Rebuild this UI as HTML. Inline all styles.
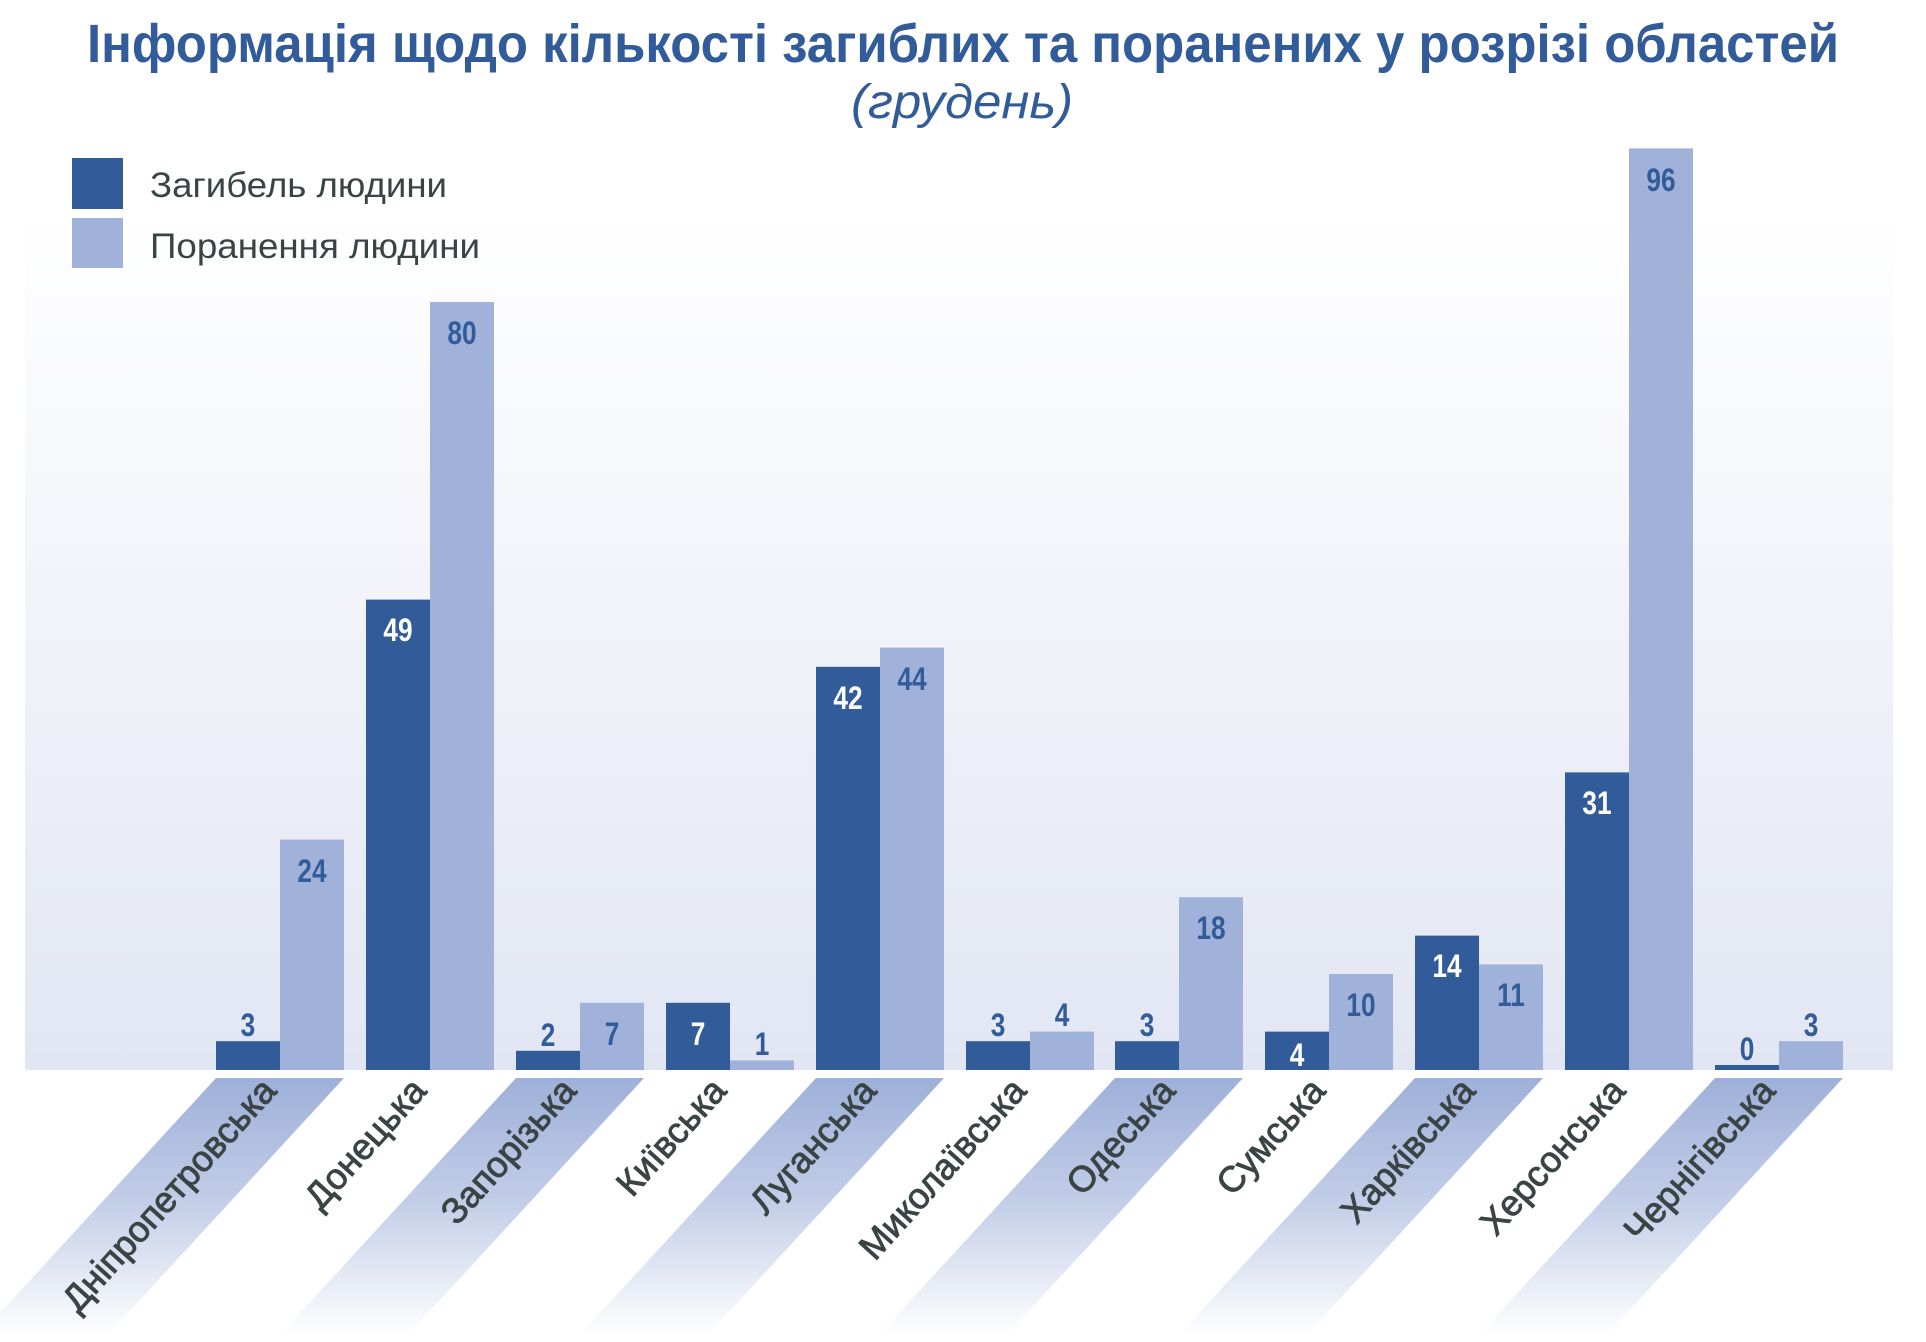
<!DOCTYPE html>
<html><head><meta charset="utf-8"><style>
html,body{margin:0;padding:0;background:#fff;}
svg{display:block;}
</style></head><body>
<svg width="1926" height="1342" viewBox="0 0 1926 1342" xmlns="http://www.w3.org/2000/svg" font-family="Liberation Sans, sans-serif">
<defs>
<linearGradient id="bg" x1="0" y1="210" x2="0" y2="1070" gradientUnits="userSpaceOnUse">
<stop offset="0" stop-color="#ffffff"/><stop offset="1" stop-color="#e2e6f3"/></linearGradient>
<linearGradient id="band" x1="0" y1="1078" x2="0" y2="1335" gradientUnits="userSpaceOnUse">
<stop offset="0" stop-color="#9eb0d9"/><stop offset="0.5" stop-color="#c4cfe8"/><stop offset="1" stop-color="#ffffff"/></linearGradient>
</defs>
<rect x="25" y="210" width="1868" height="860" fill="url(#bg)"/>
<text x="963" y="62" text-anchor="middle" font-size="54" font-weight="bold" fill="#325c99" textLength="1752" lengthAdjust="spacingAndGlyphs">Інформація щодо кількості загиблих та поранених у розрізі областей</text>
<text x="962" y="118" text-anchor="middle" font-size="48" font-style="italic" fill="#325c99" textLength="222" lengthAdjust="spacingAndGlyphs">(грудень)</text>
<rect x="72" y="158" width="51" height="51" fill="#325c99"/>
<rect x="72" y="218" width="51" height="50" fill="#a0b2da"/>
<text x="150" y="197" font-size="35" fill="#3b4444" textLength="297" lengthAdjust="spacingAndGlyphs">Загибель людини</text>
<text x="150" y="258" font-size="35" fill="#3b4444" textLength="330" lengthAdjust="spacingAndGlyphs">Поранення людини</text>

<g fill="url(#band)">
<polygon points="216,1078 344,1078 94,1350 -34,1350"/>
<polygon points="516,1078 644,1078 394,1350 266,1350"/>
<polygon points="816,1078 944,1078 694,1350 566,1350"/>
<polygon points="1115,1078 1243,1078 993,1350 865,1350"/>
<polygon points="1415,1078 1543,1078 1293,1350 1165,1350"/>
<polygon points="1715,1078 1843,1078 1593,1350 1465,1350"/>
</g>

<g fill="#325c99">
<rect x="216" y="1041.2" width="64" height="28.8"/>
<rect x="366" y="599.6" width="64" height="470.4"/>
<rect x="516" y="1050.8" width="64" height="19.2"/>
<rect x="666" y="1002.8" width="64" height="67.2"/>
<rect x="816" y="666.8" width="64" height="403.2"/>
<rect x="966" y="1041.2" width="64" height="28.8"/>
<rect x="1115" y="1041.2" width="64" height="28.8"/>
<rect x="1265" y="1031.6" width="64" height="38.4"/>
<rect x="1415" y="935.6" width="64" height="134.4"/>
<rect x="1565" y="772.4" width="64" height="297.6"/>
<rect x="1715" y="1065" width="64" height="5"/>
</g>
<g fill="#a0b2da">
<rect x="280" y="839.6" width="64" height="230.4"/>
<rect x="430" y="302" width="64" height="768"/>
<rect x="580" y="1002.8" width="64" height="67.2"/>
<rect x="730" y="1060.4" width="64" height="9.6"/>
<rect x="880" y="647.6" width="64" height="422.4"/>
<rect x="1030" y="1031.6" width="64" height="38.4"/>
<rect x="1179" y="897.2" width="64" height="172.8"/>
<rect x="1329" y="974" width="64" height="96"/>
<rect x="1479" y="964.4" width="64" height="105.6"/>
<rect x="1629" y="148.4" width="64" height="921.6"/>
<rect x="1779" y="1041.2" width="64" height="28.8"/>
</g>

<g font-size="32" font-weight="bold" text-anchor="middle">
<g fill="#325c99">
<text x="248" y="1036" transform="translate(248 0) scale(0.82 1) translate(-248 0)">3</text>
<text x="548" y="1046" transform="translate(548 0) scale(0.82 1) translate(-548 0)">2</text>
<text x="998" y="1036" transform="translate(998 0) scale(0.82 1) translate(-998 0)">3</text>
<text x="1147" y="1036" transform="translate(1147 0) scale(0.82 1) translate(-1147 0)">3</text>
<text x="1747" y="1060" transform="translate(1747 0) scale(0.82 1) translate(-1747 0)">0</text>
<text x="312" y="882" transform="translate(312 0) scale(0.82 1) translate(-312 0)">24</text>
<text x="462" y="344" transform="translate(462 0) scale(0.82 1) translate(-462 0)">80</text>
<text x="612" y="1045" transform="translate(612 0) scale(0.82 1) translate(-612 0)">7</text>
<text x="762" y="1055" transform="translate(762 0) scale(0.82 1) translate(-762 0)">1</text>
<text x="912" y="690" transform="translate(912 0) scale(0.82 1) translate(-912 0)">44</text>
<text x="1062" y="1026" transform="translate(1062 0) scale(0.82 1) translate(-1062 0)">4</text>
<text x="1211" y="939" transform="translate(1211 0) scale(0.82 1) translate(-1211 0)">18</text>
<text x="1361" y="1016" transform="translate(1361 0) scale(0.82 1) translate(-1361 0)">10</text>
<text x="1511" y="1006" transform="translate(1511 0) scale(0.82 1) translate(-1511 0)">11</text>
<text x="1661" y="191" transform="translate(1661 0) scale(0.82 1) translate(-1661 0)">96</text>
<text x="1811" y="1036" transform="translate(1811 0) scale(0.82 1) translate(-1811 0)">3</text>
</g>
<g fill="#ffffff">
<text x="398" y="641" transform="translate(398 0) scale(0.82 1) translate(-398 0)">49</text>
<text x="698" y="1045" transform="translate(698 0) scale(0.82 1) translate(-698 0)">7</text>
<text x="848" y="709" transform="translate(848 0) scale(0.82 1) translate(-848 0)">42</text>
<text x="1297" y="1066" transform="translate(1297 0) scale(0.82 1) translate(-1297 0)">4</text>
<text x="1447" y="977" transform="translate(1447 0) scale(0.82 1) translate(-1447 0)">14</text>
<text x="1597" y="814" transform="translate(1597 0) scale(0.82 1) translate(-1597 0)">31</text>
</g>
</g>

<g font-size="36" fill="#3b4444" stroke="#3b4444" stroke-width="0.9" text-anchor="end">
<text transform="translate(278 1092) rotate(-48)">Дніпропетровська</text>
<text transform="translate(428 1092) rotate(-48)">Донецька</text>
<text transform="translate(578 1092) rotate(-48)">Запорізька</text>
<text transform="translate(728 1092) rotate(-48)">Київська</text>
<text transform="translate(878 1092) rotate(-48)">Луганська</text>
<text transform="translate(1028 1092) rotate(-48)">Миколаївська</text>
<text transform="translate(1177 1092) rotate(-48)">Одеська</text>
<text transform="translate(1327 1092) rotate(-48)">Сумська</text>
<text transform="translate(1477 1092) rotate(-48)">Харківська</text>
<text transform="translate(1627 1092) rotate(-48)">Херсонська</text>
<text transform="translate(1777 1092) rotate(-48)">Чернігівська</text>
</g>
</svg>
</body></html>
